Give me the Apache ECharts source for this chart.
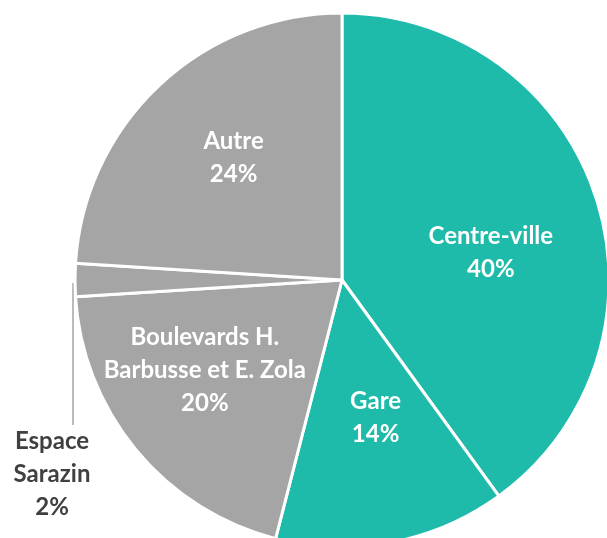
<!DOCTYPE html>
<html>
<head>
<meta charset="utf-8">
<script src="https://cdn.jsdelivr.net/npm/echarts@6/dist/echarts.min.js"></script>
<style>
  html, body { margin: 0; padding: 0; background: #fff; }
  #chart { width: 607px; height: 538px; }
</style>
</head>
<body>
<div id="chart"></div>
<script>
var categories = ['Centre-ville', 'Gare', 'Boulevards H.\nBarbusse et E. Zola', 'Espace\nSarazin', 'Autre'];
var values = [40, 14, 20, 2, 24];
var sliceColors = ['#1fbbaa', '#1fbbaa', '#a5a5a5', '#a5a5a5', '#a5a5a5'];

// label nudges relative to the default inside position (Excel puts them a bit differently)
var labelShift = [[19, 15], [8, 4], [-32, 3], null, [-15, -23]];

var pieData = categories.map(function (name, i) {
    var item = {
        name: name,
        value: values[i],
        itemStyle: { color: sliceColors[i] }
    };
    if (i === 3) {
        item.label = {
            position: 'outside',
            color: '#404040'
        };
        item.labelLine = {
            show: true,
            lineStyle: { color: '#a5a5a5', width: 1.5 }
        };
    }
    return item;
});

var chart = echarts.init(document.getElementById('chart'));

chart.setOption({
    animation: false,
    series: [{
        type: 'pie',
        center: [342, 280],
        radius: 267,
        startAngle: 90,
        clockwise: true,
        avoidLabelOverlap: false,
        itemStyle: {
            borderColor: '#ffffff',
            borderWidth: 3
        },
        label: {
            show: true,
            position: 'inside',
            formatter: function (p) {
                return p.name + '\n' + Math.round(p.percent) + '%';
            },
            color: '#ffffff',
            fontFamily: 'Lato',
            fontWeight: 'bold',
            fontSize: 24,
            lineHeight: 33,
            align: 'center'
        },
        labelLine: { show: false },
        labelLayout: function (params) {
            var s = labelShift[params.dataIndex];
            if (s) {
                return { dx: s[0], dy: s[1] };
            }
            var p0 = params.labelLinePoints[0];
            return {
                x: 52,
                y: 474,
                align: 'center',
                verticalAlign: 'middle',
                labelLinePoints: [[p0[0] - 2, p0[1] + 3], [p0[0] - 2, 425], [p0[0] - 2, 425]]
            };
        },
        data: pieData
    }]
});
</script>
</body>
</html>
